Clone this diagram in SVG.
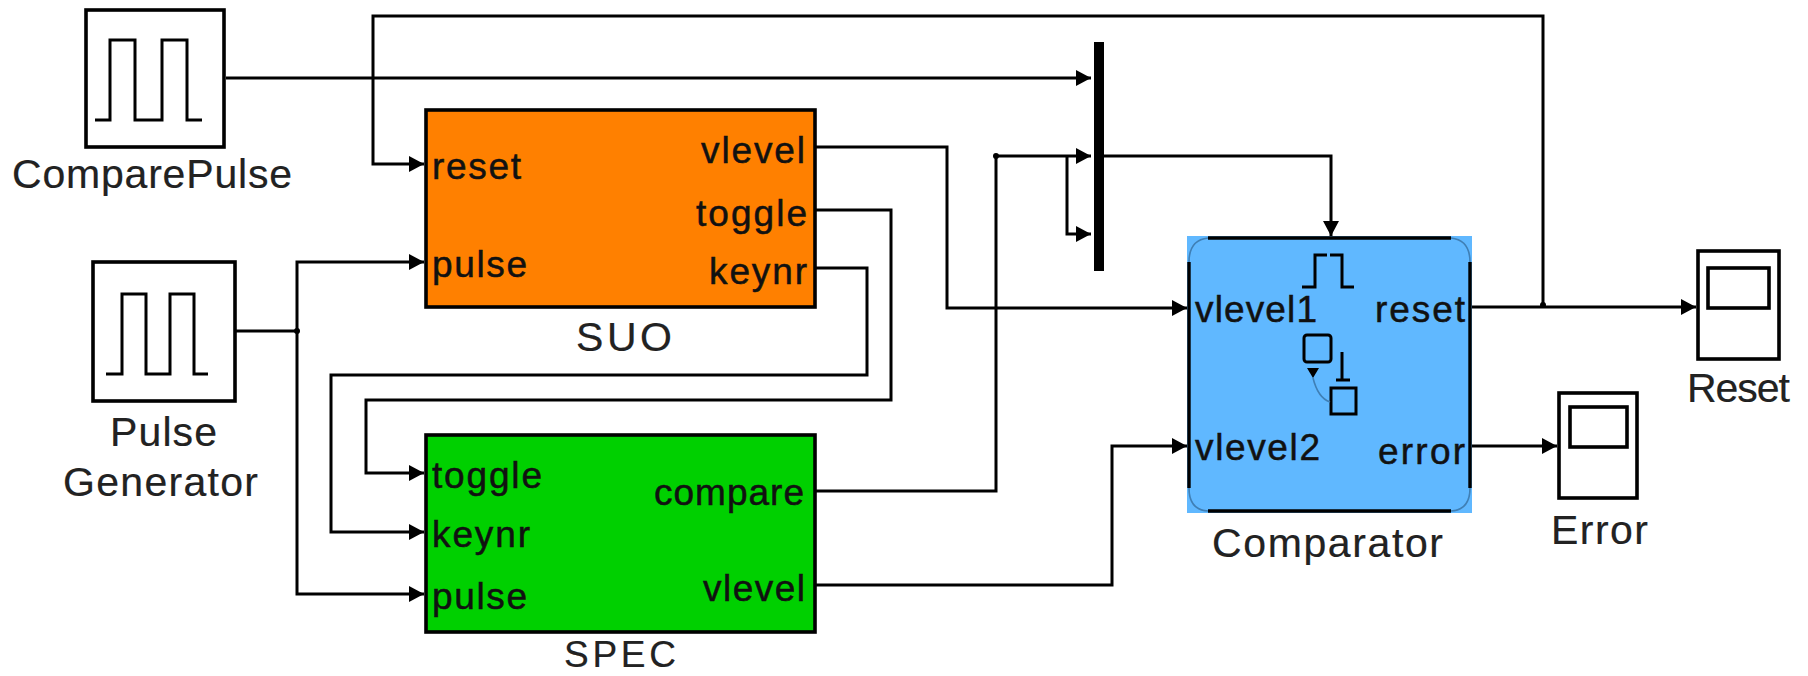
<svg xmlns="http://www.w3.org/2000/svg" width="1808" height="676" viewBox="0 0 1808 676">
<style>
text{font-family:"Liberation Sans",Arial,sans-serif;font-size:37px;fill:#111;stroke:#111;stroke-width:.5px}
.l{font-size:41px;stroke-width:.2px;fill:#222}
.k{font-size:37px;stroke-width:.2px;fill:#222}
.c{fill:none;stroke:#000;stroke-width:3}
.b{fill:#fff;stroke:#000;stroke-width:3.6}
.p{fill:none;stroke:#000;stroke-width:3}
.s{fill:none;stroke:#000;stroke-width:3.6}
</style>
<defs><marker id="a" markerUnits="userSpaceOnUse" markerWidth="16" markerHeight="16" refX="15" refY="8" orient="auto"><path d="M0 0L15 8L0 16z" fill="#000"/></marker></defs>
<rect width="1808" height="676" fill="#fff"/>
<g id="connectors">
<path class="c" marker-end="url(#a)" d="M226 78H1091"/>
<path class="c" marker-end="url(#a)" d="M1543 305V16H373V164H424"/>
<path class="c" marker-end="url(#a)" d="M236 331H297V262H424"/>
<path class="c" marker-end="url(#a)" d="M297 331V594H424"/>
<path class="c" marker-end="url(#a)" d="M815 147H947V308H1187"/>
<path class="c" marker-end="url(#a)" d="M815 210H891V400H366V473H424"/>
<path class="c" marker-end="url(#a)" d="M815 268H867V375H331V532H424"/>
<path class="c" marker-end="url(#a)" d="M815 491H996V156H1091"/>
<path class="c" marker-end="url(#a)" d="M1067 156V234H1091"/>
<path class="c" marker-end="url(#a)" d="M815 585H1112V446H1187"/>
<path class="c" marker-end="url(#a)" d="M1100 156H1331V236"/>
<path class="c" marker-end="url(#a)" d="M1470 307H1696"/>
<path class="c" marker-end="url(#a)" d="M1470 446H1557"/>
<circle cx="297" cy="331" r="3"/><circle cx="996" cy="156" r="3"/><circle cx="1543" cy="305" r="3"/>
</g>
<g id="mux"><rect x="1094" y="42" width="10" height="229" fill="#000"/></g>
<g id="compare-pulse"><rect class="b" x="86" y="10" width="138" height="137"/><path class="p" d="M95 120H110V40H135V120H162V40H187V120H202"/><text class="l" x="12" y="188" textLength="280">ComparePulse</text></g>
<g id="pulse-generator"><rect class="b" x="93" y="262" width="142" height="139"/><path class="p" d="M106 374H122V294H146V374H170V294H194V374H208"/><text class="l" x="110" y="446" textLength="107">Pulse</text><text class="l" x="63" y="496" textLength="195">Generator</text></g>
<g id="suo"><rect x="426" y="110" width="389" height="197" fill="#ff8000" stroke="#000" stroke-width="3.6"/><text x="432" y="179" textLength="89">reset</text><text x="432" y="277" textLength="95">pulse</text><text x="701" y="163" textLength="104">vlevel</text><text x="696" y="226" textLength="111">toggle</text><text x="709" y="284" textLength="98">keynr</text><text class="l" x="576" y="351" textLength="96">SUO</text></g>
<g id="spec"><rect x="426" y="435" width="389" height="197" fill="#00d000" stroke="#000" stroke-width="3.6"/><text x="432" y="488" textLength="110">toggle</text><text x="432" y="547" textLength="98">keynr</text><text x="432" y="609" textLength="95">pulse</text><text x="654" y="505" textLength="150">compare</text><text x="703" y="601" textLength="102">vlevel</text><text class="k" x="564" y="667" textLength="112">SPEC</text></g>
<g id="comparator"><rect x="1187" y="236" width="285" height="277" fill="#60b8ff"/>
<path fill="none" stroke="#000" stroke-width="3.4" d="M1208 238H1451M1208 511H1451M1189 262V488M1470 262V488"/>
<path fill="none" stroke="#3f7fb5" stroke-width="1.6" d="M1208 238Q1189 240 1189 262M1451 238Q1470 240 1470 262M1189 488Q1189 510 1208 511M1470 488Q1470 510 1451 511"/>
<path class="p" d="M1302 287H1315V255H1327M1330 255H1342V287H1354"/><rect class="p" x="1304" y="335" width="27" height="27" rx="3"/><rect class="p" x="1331" y="388" width="25" height="26"/>
<path class="p" d="M1342 352V380M1336 380H1350"/><path d="M1307 368H1319L1313 378z" fill="#000"/>
<path fill="none" stroke="#3f7fb5" stroke-width="1.6" d="M1313 378Q1318 398 1330 402"/>
<text x="1195" y="322" textLength="122">vlevel1</text><text x="1195" y="460" textLength="125">vlevel2</text><text x="1375" y="322" textLength="90">reset</text><text x="1378" y="464" textLength="87">error</text><text class="l" x="1212" y="557" textLength="231">Comparator</text></g>
<g id="error"><rect class="b" x="1559" y="393" width="78" height="105"/><rect class="s" x="1570" y="407" width="57" height="40"/><text class="l" x="1551" y="544" textLength="97">Error</text></g>
<g id="reset"><rect class="b" x="1698" y="251" width="81" height="108"/><rect class="s" x="1708" y="268" width="61" height="40"/><text class="l" x="1687" y="402" textLength="103">Reset</text></g>
</svg>
